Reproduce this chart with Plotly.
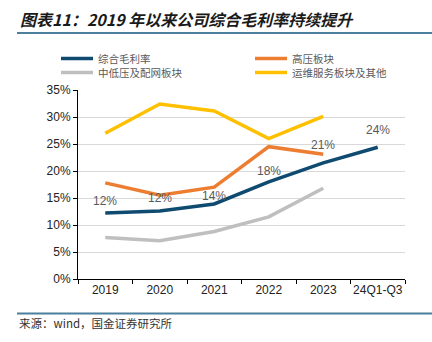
import plotly.graph_objects as go

categories = ["2019", "2020", "2021", "2022", "2023", "24Q1-Q3"]
total_margin = [12.2, 12.6, 13.9, 18.0, 21.5, 24.4]
high_voltage = [17.8, 15.5, 17.0, 24.5, 23.1]
mid_low_voltage = [7.7, 7.1, 8.8, 11.5, 16.8]
service_other = [27.0, 32.4, 31.1, 26.0, 30.1]
total_labels = ["12%", "12%", "14%", "18%", "21%", "24%"]
y_ticks = [0, 5, 10, 15, 20, 25, 30, 35]

# style: vertical offsets (px) of the data labels above the line
label_shift = [12, 13, 8, 11, 18, 17.5]

TICK_FONT = "Arial, Liberation Sans, sans-serif"
CJK_FONT = "Noto Sans CJK SC, sans-serif"

W, H = 432, 342
ML, MR, MT, MB = 78, 27, 90, 63
PW, PH = W - ML - MR, H - MT - MB


def px(xp):
    return (xp - ML) / PW


def py(yp):
    return (H - MB - yp) / PH


fig = go.Figure()
series = [
    ("综合毛利率", categories, total_margin, "#0f4a70"),
    ("高压板块", categories[:5], high_voltage, "#ed7d31"),
    ("中低压及配网板块", categories[:5], mid_low_voltage, "#bfbfbf"),
    ("运维服务板块及其他", categories[:5], service_other, "#ffc000"),
]
for name, xs, ys, color in series:
    fig.add_trace(go.Scatter(x=xs, y=ys, name=name, mode="lines",
                             line=dict(color=color, width=3.5), hoverinfo="skip",
                             showlegend=False))

for i, (v, t, s) in enumerate(zip(total_margin, total_labels, label_shift)):
    fig.add_annotation(x=i, y=v, text=t, showarrow=False, yshift=s,
                       font=dict(family=TICK_FONT, size=12, color="#595959"))

# legend (manual, 2 columns)
legend_pos = [(61, 58.5), (255, 58.5), (61, 72.5), (255, 72.5)]
for (name, _, _, color), (lx, ly) in zip(series, legend_pos):
    fig.add_shape(type="line", xref="paper", yref="paper",
                  x0=px(lx), x1=px(lx + 32), y0=py(ly), y1=py(ly),
                  line=dict(color=color, width=3.5))
    fig.add_annotation(xref="paper", yref="paper", x=px(lx + 35), y=py(ly),
                       xanchor="left", yanchor="middle", showarrow=False,
                       text=name, font=dict(family=CJK_FONT, size=10.5, color="#595959"))

fig.update_layout(
    width=W, height=H,
    margin=dict(l=ML, r=MR, t=MT, b=MB),
    paper_bgcolor="white", plot_bgcolor="white",
    showlegend=False,
    xaxis=dict(type="category", categoryorder="array", categoryarray=categories,
               range=[-0.5, 5.5], tickangle=0,
               showline=True, linecolor="black", linewidth=1,
               ticks="outside", tickson="boundaries", ticklen=4, tickcolor="black",
               showgrid=False,
               tickfont=dict(family=TICK_FONT, size=12, color="#222")),
    yaxis=dict(range=[0, 35], tickvals=y_ticks,
               ticktext=[f"{v}%" for v in y_ticks],
               showline=True, linecolor="black", linewidth=1,
               ticks="outside", ticklen=4, tickcolor="black",
               showgrid=True, gridcolor="#d9d9d9", gridwidth=1,
               zeroline=False,
               tickfont=dict(family=TICK_FONT, size=12, color="#222")),
)

# title
fig.add_annotation(xref="paper", yref="paper", x=px(18), y=py(19), showarrow=False,
                   xanchor="left", yanchor="middle",
                   text="<b><i>图表11：2019 年以来公司综合毛利率持续提升</i></b>",
                   font=dict(family=CJK_FONT, size=16, color="#1a1a1a"))
fig.add_shape(type="line", xref="paper", yref="paper",
              x0=px(17), x1=px(432), y0=py(33), y1=py(33),
              line=dict(color="#4a7f9e", width=2))
# source
fig.add_shape(type="line", xref="paper", yref="paper",
              x0=px(17), x1=px(432), y0=py(313.5), y1=py(313.5),
              line=dict(color="#4a7f9e", width=2))
fig.add_annotation(xref="paper", yref="paper", x=px(17), y=py(323), showarrow=False,
                   xanchor="left", yanchor="middle",
                   text="来源：wind，国金证券研究所",
                   font=dict(family=CJK_FONT, size=11.5, color="#333"))

fig.write_html("out.html")
